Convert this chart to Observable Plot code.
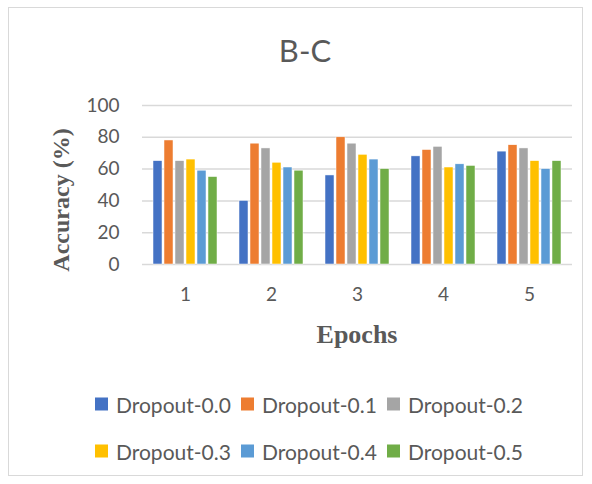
<!DOCTYPE html>
<html><head><meta charset="utf-8">
<script src="https://cdn.jsdelivr.net/npm/d3@7"></script>
<script src="https://cdn.jsdelivr.net/npm/@observablehq/plot@0.6"></script>
<style>
body{margin:0;background:#fff;width:592px;height:484px;position:relative;overflow:hidden;font-family:Lato,"Open Sans",sans-serif;color:#595959;}
#frame{position:absolute;left:8px;top:7px;width:575px;height:469px;border:1px solid #d9d9d9;box-sizing:border-box;}
#title{position:absolute;left:305px;top:50px;transform:translate(-50%,-50%);font-size:31px;white-space:nowrap;}
#chart{position:absolute;left:0;top:90px;}
#ylab{position:absolute;left:61px;top:200px;transform:translate(-50%,-50%) rotate(-90deg);font-family:"Liberation Serif",serif;font-weight:bold;font-size:24px;white-space:nowrap;}
#xlab{position:absolute;left:357px;top:335px;transform:translate(-50%,-50%);font-family:"Liberation Serif",serif;font-weight:bold;font-size:26px;white-space:nowrap;}
.leg{position:absolute;display:flex;align-items:center;font-size:21px;white-space:nowrap;transform:translateY(-50%);}
.sw{width:13px;height:13px;margin-right:8px;}
</style></head>
<body>
<div id="frame"></div>
<div id="title">B-C</div>
<div id="chart"></div>
<div id="ylab">Accuracy (%)</div>
<div id="xlab">Epochs</div>
<div id="legend"></div>
<script>
const epochs = ["1", "2", "3", "4", "5"];
const series = ["Dropout-0.0", "Dropout-0.1", "Dropout-0.2", "Dropout-0.3", "Dropout-0.4", "Dropout-0.5"];
const colors = ["#4472C4", "#ED7D31", "#A5A5A5", "#FFC000", "#5B9BD5", "#70AD47"];
const dropout00 = [65, 40, 56, 68, 71];
const dropout01 = [78, 76, 80, 72, 75];
const dropout02 = [65, 73, 76, 74, 73];
const dropout03 = [66, 64, 69, 61, 65];
const dropout04 = [59, 61, 66, 63, 60];
const dropout05 = [55, 59, 60, 62, 65];
const yTicks = [0, 20, 40, 60, 80, 100];

const valueLists = [dropout00, dropout01, dropout02, dropout03, dropout04, dropout05];
const data = [];
epochs.forEach((e, i) => series.forEach((s, j) => data.push({epoch: e, series: s, value: valueLists[j][i]})));

const chart = Plot.plot({
  width: 592, height: 270,
  marginLeft: 141, marginRight: 19, marginTop: 15, marginBottom: 96,
  style: {fontFamily: "Lato, sans-serif", fontSize: "19px", color: "#595959", background: "transparent"},
  fx: {domain: epochs, padding: 0, axis: "bottom", tickSize: 0, tickPadding: 23, label: null},
  x: {domain: series, paddingInner: 0.2, paddingOuter: 0.76, axis: null},
  y: {domain: [0, 100], axis: null},
  color: {domain: series, range: colors},
  marks: [
    Plot.ruleY(yTicks, {stroke: "#d9d9d9", strokeWidth: 1.5}),
    Plot.axisY(yTicks, {tickSize: 0, tickPadding: 23, label: null, fontSize: 19}),
    Plot.barY(data, {fx: "epoch", x: "series", y: "value", fill: "series", stroke: "white", strokeWidth: 0.5})
  ]
});
document.getElementById("chart").appendChild(chart);

const legend = document.getElementById("legend");
const legX = [95, 241, 387];
const legY = [404, 451];
series.forEach((s, i) => {
  const d = document.createElement("div");
  d.className = "leg";
  d.style.left = legX[i % 3] + "px";
  d.style.top = legY[Math.floor(i / 3)] + "px";
  d.innerHTML = `<span class="sw" style="background:${colors[i]}"></span><span>${s}</span>`;
  legend.appendChild(d);
});
</script>
</body></html>
